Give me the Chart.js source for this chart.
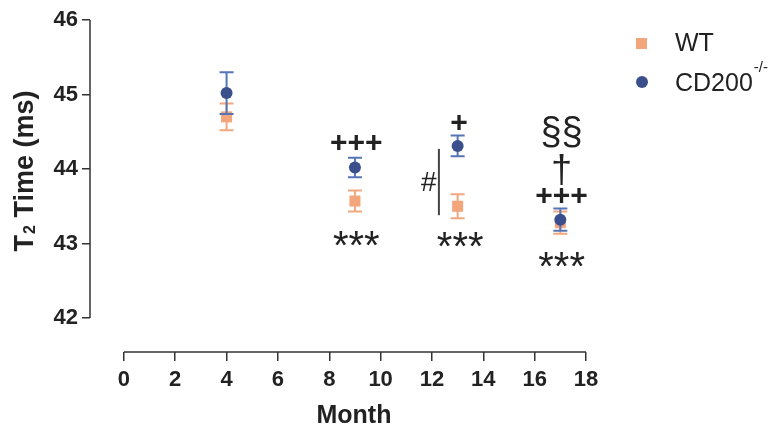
<!DOCTYPE html>
<html>
<head>
<meta charset="utf-8">
<script src="https://cdn.jsdelivr.net/npm/chart.js@4"></script>
<style>
  html, body { margin: 0; padding: 0; background: #fff; }
  #wrap { width: 780px; height: 427px; }
</style>
</head>
<body>
<div id="wrap"><canvas id="t2Chart" width="780" height="427"></canvas></div>
<script>
// --- data ---
const months = [4, 9, 13, 17];
const wtMean = [44.70, 43.57, 43.50, 43.28];
const wtSem = [0.18, 0.14, 0.16, 0.15];
const koMean = [45.02, 44.02, 44.31, 43.32];
const koSem = [0.28, 0.13, 0.14, 0.15];

const xTicks = [0, 2, 4, 6, 8, 10, 12, 14, 16, 18];
const yTicks = [42, 43, 44, 45, 46];

// significance marks (month, value)
const markText = ['+++', '***', '+', '#', '***', '§§', '†', '+++', '***'];
const markMonth = [9.05, 9.05, 13.05, 11.88, 13.1, 17.05, 17.05, 17.05, 17.05];
const markValue = [44.36, 43.07, 44.63, 43.83, 43.05, 44.50, 43.99, 43.65, 42.78];
const bracket = { month: 12.27, from: 44.27, to: 43.38 };

const WT_COLOR = '#f3a57b';
const WT_BAR = '#f2a87f';
const KO_COLOR = '#3b4f8d';
const KO_BAR = '#5575b6';
const INK = '#222';

const markFont = {
  '+++': 'bold 30px "Liberation Sans", Arial, sans-serif',
  '+': 'bold 30px "Liberation Sans", Arial, sans-serif',
  '***': '40px "Liberation Sans", Arial, sans-serif',
  '#': '28px "Liberation Sans", Arial, sans-serif',
  '§§': '38px "Liberation Sans", Arial, sans-serif',
  '†': '38px "Liberation Sans", Arial, sans-serif'
};

const toPoints = (ys) => months.map((m, i) => ({ x: m, y: ys[i] }));

// draws the error bars of one dataset just before its symbols
const errorBars = {
  id: 'errorBars',
  beforeDatasetDraw(chart, args) {
    const ds = chart.data.datasets[args.index];
    const sem = ds.sem;
    const xs = chart.scales.x, ys = chart.scales.y;
    const c = chart.ctx;
    c.save();
    c.strokeStyle = ds.barColor;
    c.lineWidth = 2;
    ds.data.forEach((p, i) => {
      const px = xs.getPixelForValue(p.x);
      const top = ys.getPixelForValue(p.y + sem[i]);
      const bot = ys.getPixelForValue(p.y - sem[i]);
      c.beginPath();
      c.moveTo(px, top); c.lineTo(px, bot);
      c.moveTo(px - 7, top); c.lineTo(px + 7, top);
      c.moveTo(px - 7, bot); c.lineTo(px + 7, bot);
      c.stroke();
    });
    c.restore();
  }
};

// axis lines, titles, legend and significance marks
const decorations = {
  id: 'decorations',
  afterDraw(chart) {
    const c = chart.ctx;
    const xs = chart.scales.x, ys = chart.scales.y;
    const area = chart.chartArea;
    c.save();

    // offset axis lines
    c.strokeStyle = '#333';
    c.lineWidth = 1.5;
    c.beginPath();
    c.moveTo(area.left, ys.getPixelForValue(yTicks[0]));
    c.lineTo(area.left, ys.getPixelForValue(yTicks[yTicks.length - 1]));
    c.moveTo(xs.getPixelForValue(xTicks[0]), area.bottom);
    c.lineTo(xs.getPixelForValue(xTicks[xTicks.length - 1]), area.bottom);
    c.stroke();

    // y title with subscript
    c.fillStyle = INK;
    c.translate(33, 171);
    c.rotate(-Math.PI / 2);
    const big = 'bold 27px "Liberation Sans", Arial, sans-serif';
    const sub = 'bold 16px "Liberation Sans", Arial, sans-serif';
    c.font = big; const w1 = c.measureText('T').width;
    c.font = sub; const w2 = c.measureText('2').width;
    c.font = big; const w3 = c.measureText(' Time (ms)').width;
    let x0 = -(w1 + w2 + 1 + w3) / 2;
    c.textAlign = 'left';
    c.textBaseline = 'alphabetic';
    c.fillText('T', x0, 0);
    c.font = sub; c.fillText('2', x0 + w1 + 1, 2);
    c.font = big; c.fillText(' Time (ms)', x0 + w1 + 1 + w2, 0);
    c.setTransform(1, 0, 0, 1, 0, 0);

    // x title
    c.font = 'bold 25px "Liberation Sans", Arial, sans-serif';
    c.textAlign = 'center';
    const midX = (xs.getPixelForValue(xTicks[0]) + xs.getPixelForValue(xTicks[xTicks.length - 1])) / 2;
    c.fillText('Month', midX - 1, 423);

    // legend
    c.fillStyle = WT_COLOR;
    c.fillRect(636, 38, 11, 11);
    c.fillStyle = KO_COLOR;
    c.beginPath(); c.arc(642, 82, 6, 0, Math.PI * 2); c.fill();
    c.fillStyle = INK;
    c.textAlign = 'left';
    c.textBaseline = 'middle';
    c.font = '25px "Liberation Sans", Arial, sans-serif';
    c.fillText('WT', 675, 44);
    c.fillText('CD200', 675, 84);
    const cdW = c.measureText('CD200').width;
    c.font = '15px "Liberation Sans", Arial, sans-serif';
    c.fillText('-/-', 675 + cdW + 1, 68);

    // bracket for #
    c.strokeStyle = '#444';
    c.lineWidth = 2;
    const bx = xs.getPixelForValue(bracket.month);
    c.beginPath();
    c.moveTo(bx, ys.getPixelForValue(bracket.from));
    c.lineTo(bx, ys.getPixelForValue(bracket.to));
    c.stroke();

    // significance marks, centred on their ink
    c.textAlign = 'center';
    c.textBaseline = 'alphabetic';
    markText.forEach((t, i) => {
      c.font = markFont[t];
      const m = c.measureText(t);
      const px = xs.getPixelForValue(markMonth[i]);
      const py = ys.getPixelForValue(markValue[i]);
      const off = (m.actualBoundingBoxAscent - m.actualBoundingBoxDescent) / 2;
      c.fillText(t, px, py + off);
    });

    c.restore();
  }
};

new Chart(document.getElementById('t2Chart'), {
  type: 'scatter',
  data: {
    datasets: [
      {
        label: 'WT',
        data: toPoints(wtMean),
        sem: wtSem,
        barColor: WT_BAR,
        pointStyle: 'rect',
        pointRadius: 7.8,
        pointBackgroundColor: WT_COLOR,
        pointBorderWidth: 0,
        order: 2
      },
      {
        label: 'CD200-/-',
        data: toPoints(koMean),
        sem: koSem,
        barColor: KO_BAR,
        pointStyle: 'circle',
        pointRadius: 6,
        pointBackgroundColor: KO_COLOR,
        pointBorderWidth: 0,
        order: 1
      }
    ]
  },
  options: {
    responsive: false,
    animation: false,
    devicePixelRatio: 1,
    layout: { padding: { top: 20, right: 194, bottom: 0, left: 0 } },
    plugins: { legend: { display: false }, tooltip: { enabled: false } },
    scales: {
      x: {
        type: 'linear',
        min: -1.32,
        max: 18,
        afterBuildTicks: (s) => { s.ticks = xTicks.map(v => ({ value: v })); },
        afterFit: (s) => { s.height = 75; },
        border: { display: false },
        grid: { drawOnChartArea: false, drawTicks: true, tickLength: 9, color: '#333', lineWidth: 1.5 },
        ticks: {
          autoSkip: false,
          maxRotation: 0,
          padding: 6,
          color: INK,
          font: { family: '"Liberation Sans", Arial, sans-serif', size: 22, weight: 'bold' }
        }
      },
      y: {
        min: 41.544,
        max: 46,
        afterBuildTicks: (s) => { s.ticks = yTicks.map(v => ({ value: v })); },
        afterFit: (s) => { s.width = 90; },
        border: { display: false },
        grid: { drawOnChartArea: false, drawTicks: true, tickLength: 8, color: '#333', lineWidth: 1.5 },
        ticks: {
          autoSkip: false,
          padding: 4,
          color: INK,
          font: { family: '"Liberation Sans", Arial, sans-serif', size: 22, weight: 'bold' }
        }
      }
    }
  },
  plugins: [errorBars, decorations]
});
</script>
</body>
</html>
